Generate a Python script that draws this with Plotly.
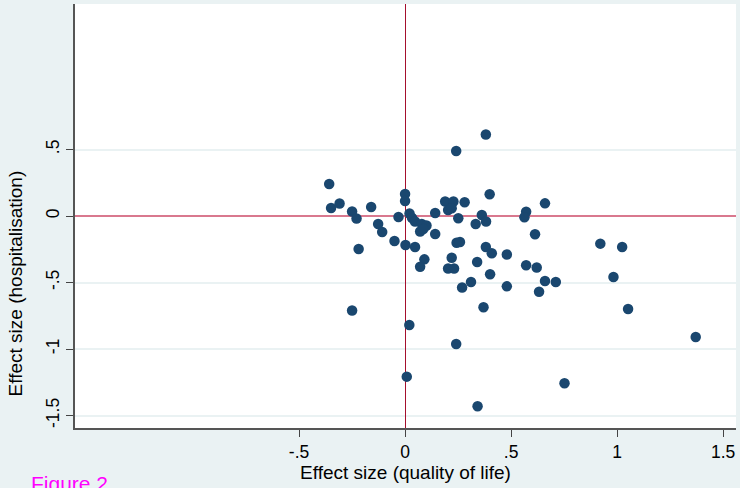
import plotly.graph_objects as go

# Effect sizes
qol = [-0.358, -0.349, -0.309, -0.250, -0.229, -0.219, -0.250, -0.160, -0.127, -0.108,
       -0.050, -0.031, 0.000, 0.000, 0.021, 0.033, 0.047, 0.079, 0.101, 0.071,
       0.086, 0.142, 0.142, 0.002, 0.047, 0.091, 0.071, 0.189, 0.228, 0.203,
       0.220, 0.281, 0.251, 0.243, 0.259, 0.220, 0.203, 0.231, 0.333, 0.362,
       0.382, 0.399, 0.381, 0.241, 0.381, 0.409, 0.340, 0.480, 0.401, 0.311,
       0.269, 0.480, 0.370, 0.571, 0.563, 0.660, 0.613, 0.571, 0.621, 0.660,
       0.711, 0.632, 0.020, 0.241, 0.008, 0.342, 0.752, 0.921, 1.024, 0.983,
       1.052, 1.371]
hosp = [0.241, 0.060, 0.094, 0.034, -0.019, -0.248, -0.711, 0.068, -0.060, -0.120,
        -0.188, -0.008, 0.165, 0.113, 0.019, -0.015, -0.041, -0.060, -0.071, -0.117,
        -0.098, 0.023, -0.135, -0.218, -0.233, -0.326, -0.381, 0.109, 0.109, 0.045,
        0.058, 0.103, -0.017, -0.201, -0.195, -0.314, -0.395, -0.395, -0.060, 0.008,
        -0.041, 0.163, 0.613, 0.489, -0.233, -0.280, -0.346, -0.289, -0.438, -0.496,
        -0.538, -0.529, -0.686, 0.032, -0.010, 0.095, -0.137, -0.370, -0.387, -0.489,
        -0.496, -0.569, -0.820, -0.962, -1.208, -1.430, -1.258, -0.208, -0.233, -0.459,
        -0.699, -0.910]

x_ticks = [-0.5, 0, 0.5, 1, 1.5]
x_ticklabels = ["-.5", "0", ".5", "1", "1.5"]
y_ticks = [0.5, 0, -0.5, -1, -1.5]
y_ticklabels = [".5", "0", "-.5", "-1", "-1.5"]

FONT = "Liberation Sans, Arial, sans-serif"
BG = "#eaf2f3"

fig = go.Figure()
fig.add_trace(go.Scatter(
    x=qol, y=hosp, mode="markers",
    marker=dict(color="#1a476f", size=10.5, line=dict(width=0)),
    showlegend=False, hoverinfo="x+y",
))

fig.update_layout(
    width=740, height=488,
    margin=dict(l=75, r=4, t=4, b=60),
    paper_bgcolor=BG, plot_bgcolor="white",
    font=dict(family=FONT, color="black"),
    showlegend=False,
)

fig.update_xaxes(
    range=[-1.557, 1.561],
    tickvals=x_ticks, ticktext=x_ticklabels,
    ticks="outside", ticklen=7, tickwidth=1.2, tickcolor="#444",
    tickfont=dict(size=17.5, family=FONT, color="black"),
    showline=True, linecolor="#555", linewidth=1.5,
    showgrid=False,
    zeroline=True, zerolinecolor="#a50f2d", zerolinewidth=1.3,
    title=dict(text="Effect size (quality of life)", font=dict(size=19, family=FONT, color="black"), standoff=5),
)
fig.update_yaxes(
    range=[-1.594, 1.594],
    tickvals=y_ticks, ticktext=y_ticklabels, tickangle=-90,
    ticks="outside", ticklen=7, tickwidth=1.2, tickcolor="#444",
    tickfont=dict(size=17.5, family=FONT, color="black"),
    showline=True, linecolor="#555", linewidth=1.5,
    showgrid=True, gridcolor=BG, gridwidth=1.5,
    zeroline=True, zerolinecolor="#d9788e", zerolinewidth=1.5,
)

# y-axis title (offset downward as in the reference)
fig.add_annotation(
    text="Effect size (hospitalisation)", xref="paper", yref="paper",
    x=-0.0908, y=0.341, xanchor="center", yanchor="middle", textangle=-90,
    showarrow=False, font=dict(size=19, family=FONT, color="black"),
)

fig.add_annotation(
    text="Figure 2", xref="paper", yref="paper",
    x=-0.069, y=-0.10, xanchor="left", yanchor="top", showarrow=False,
    font=dict(size=21, family=FONT, color="#ff00ff"),
)

fig.write_html("out.html")
